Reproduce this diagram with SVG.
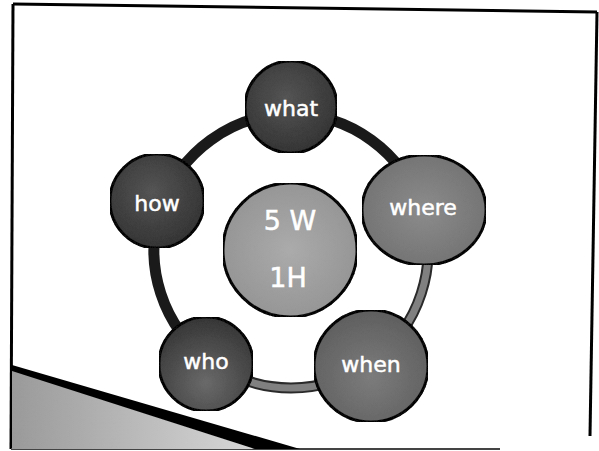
<svg xmlns="http://www.w3.org/2000/svg" width="599" height="451" viewBox="0 0 599 451">
  <style>
    .node { stroke: #111; stroke-width: 3; }
    .lbl { font-family: "DejaVu Sans", "Liberation Sans", sans-serif; fill: #fff; stroke: #fff; stroke-width: 0.5; text-anchor: middle; font-size: 22px; }
    .big { font-size: 27px; }
    .ring-dark { fill: none; stroke: #1a1a1a; stroke-width: 11; }
    .ring-grey-out { fill: none; stroke: #2a2a2a; stroke-width: 11; }
    .ring-grey-in { fill: none; stroke: #808080; stroke-width: 7; }
    .frame { fill: none; stroke: #000; stroke-width: 3; }
  </style>
  <defs>
    <filter id="grain" x="0" y="0" width="100%" height="100%">
      <feTurbulence type="fractalNoise" baseFrequency="0.9" numOctaves="2" seed="3" result="n"/>
      <feColorMatrix in="n" type="matrix" values="0 0 0 0 0  0 0 0 0 0  0 0 0 0 0  0 0 0 -1.5 1.0" result="a"/>
      <feComposite in="SourceGraphic" in2="a" operator="in" result="g"/>
      <feMerge><feMergeNode in="SourceGraphic"/><feMergeNode in="g"/></feMerge>
    </filter>
    <radialGradient id="gDark" cx="0.45" cy="0.4" r="0.7">
      <stop offset="0" stop-color="#555"/>
      <stop offset="1" stop-color="#303030"/>
    </radialGradient>
    <radialGradient id="gWho" cx="0.5" cy="0.7" r="0.7">
      <stop offset="0" stop-color="#6a6a6a"/>
      <stop offset="1" stop-color="#363636"/>
    </radialGradient>
    <radialGradient id="gWhere" cx="0.5" cy="0.5" r="0.7">
      <stop offset="0" stop-color="#8c8c8c"/>
      <stop offset="1" stop-color="#6c6c6c"/>
    </radialGradient>
    <radialGradient id="gWhen" cx="0.5" cy="0.6" r="0.7">
      <stop offset="0" stop-color="#7c7c7c"/>
      <stop offset="1" stop-color="#5a5a5a"/>
    </radialGradient>
    <radialGradient id="gCenter" cx="0.5" cy="0.5" r="0.7">
      <stop offset="0" stop-color="#ababab"/>
      <stop offset="1" stop-color="#8e8e8e"/>
    </radialGradient>
    <linearGradient id="gTri" x1="0" y1="0" x2="1" y2="0">
      <stop offset="0" stop-color="#9a9a9a"/>
      <stop offset="1" stop-color="#d8d8d8"/>
    </linearGradient>
  </defs>

  <rect width="599" height="451" fill="#fff"/>

  <g id="frame">
    <line class="frame" x1="13" y1="4" x2="597" y2="12"/>
    <line class="frame" x1="13" y1="4" x2="11" y2="449"/>
    <line class="frame" x1="597" y1="12" x2="590" y2="436"/>
    <line x1="11" y1="449" x2="500" y2="449" stroke="#444" stroke-width="2"/>
  </g>

  <g id="corner">
    <polygon points="12,370 255,449 12,449" fill="url(#gTri)" filter="url(#grain)"/>
    <polygon points="12,365 300,449 255,449 12,371" fill="#000"/>
  </g>

  <g id="connectors">
    <path class="ring-dark" d="M291,114 A137,137 0 0 1 421.3,208.7"/>
    <path class="ring-grey-out" d="M421.3,208.7 A137,137 0 0 1 371.5,361.8"/>
    <path class="ring-grey-in" d="M421.3,208.7 A137,137 0 0 1 371.5,361.8"/>
    <path class="ring-grey-out" d="M371.5,361.8 A137,137 0 0 1 210.5,361.8"/>
    <path class="ring-grey-in" d="M371.5,361.8 A137,137 0 0 1 210.5,361.8"/>
    <path class="ring-dark" d="M210.5,361.8 A137,137 0 0 1 160.7,208.7"/>
    <path class="ring-dark" d="M160.7,208.7 A137,137 0 0 1 291,114"/>
  </g>

  <g id="center">
    <circle class="node" cx="290" cy="250" r="67" fill="url(#gCenter)" filter="url(#grain)"/>
    <text class="lbl big" x="290" y="230">5 W</text>
    <text class="lbl big" x="288" y="287">1H</text>
  </g>

  <g id="what">
    <circle class="node" cx="291" cy="107" r="46" fill="url(#gDark)" filter="url(#grain)"/>
    <text class="lbl" x="291" y="116">what</text>
  </g>

  <g id="where">
    <ellipse class="node" cx="424" cy="210" rx="62" ry="55" fill="url(#gWhere)" filter="url(#grain)"/>
    <text class="lbl" x="423" y="215">where</text>
  </g>

  <g id="when">
    <ellipse class="node" cx="371" cy="366" rx="57" ry="56" fill="url(#gWhen)" filter="url(#grain)"/>
    <text class="lbl" x="371" y="372">when</text>
  </g>

  <g id="who">
    <circle class="node" cx="206" cy="364" r="47" fill="url(#gWho)" filter="url(#grain)"/>
    <text class="lbl" x="206" y="369">who</text>
  </g>

  <g id="how">
    <circle class="node" cx="157" cy="201" r="47" fill="url(#gDark)" filter="url(#grain)"/>
    <text class="lbl" x="157" y="211">how</text>
  </g>
</svg>
